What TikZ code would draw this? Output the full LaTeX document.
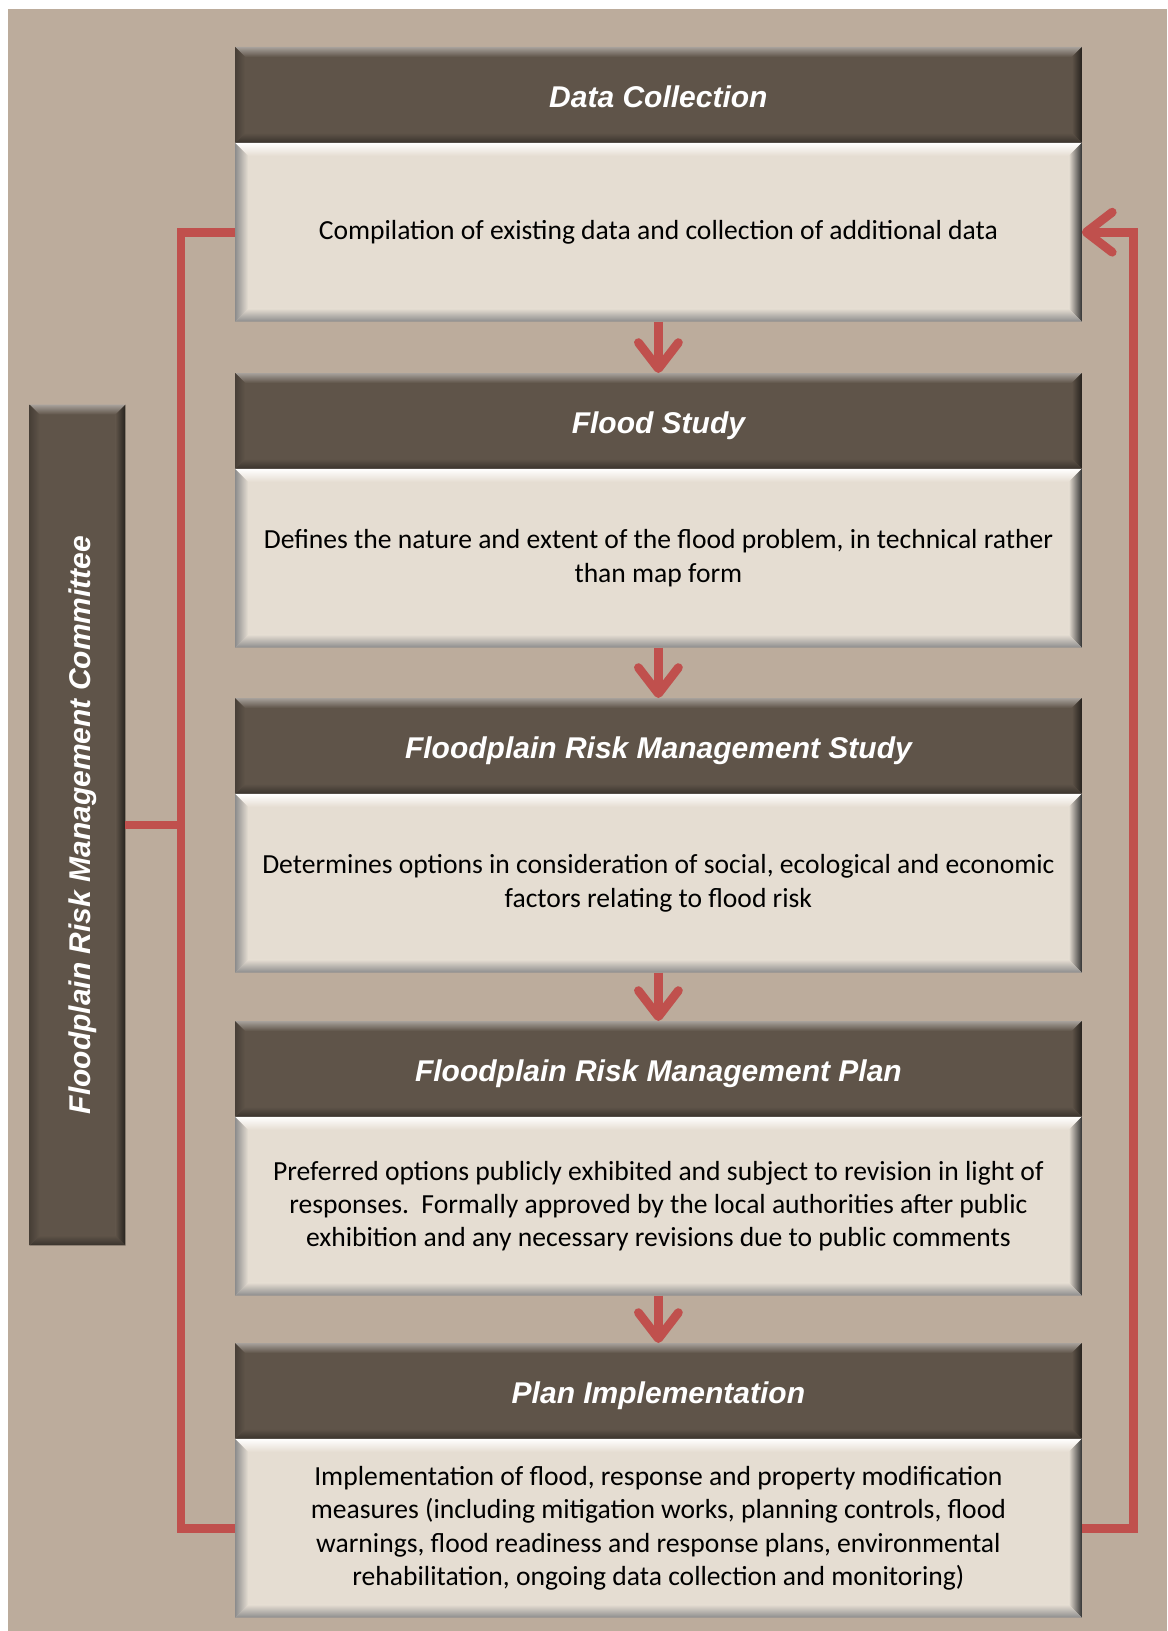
\documentclass[tikz,border=0pt]{standalone}
\usepackage{fontspec}
\usetikzlibrary{calc}
\usetikzlibrary{arrows.meta}
\newfontfamily\headfont{Liberation Sans}
\newfontfamily\bodyfont{Carlito}
\definecolor{BACK}{HTML}{BCAC9C}
\definecolor{HEAD}{HTML}{5F5449}
\definecolor{BODY}{HTML}{E5DDD2}
\definecolor{RED}{HTML}{C0504D}
% node, depth, top, right, bottom, left, base
\newcommand{\bevel}[7]{%
  \shade[top color=#3, bottom color=#7] (#1.north west) -- (#1.north east) -- ($(#1.north east)+(-#2,#2)$) -- ($(#1.north west)+(#2,#2)$) -- cycle;
  \shade[left color=#7, right color=#4] (#1.north east) -- (#1.south east) -- ($(#1.south east)+(-#2,-#2)$) -- ($(#1.north east)+(-#2,#2)$) -- cycle;
  \shade[top color=#7, bottom color=#5] (#1.south west) -- (#1.south east) -- ($(#1.south east)+(-#2,-#2)$) -- ($(#1.south west)+(#2,-#2)$) -- cycle;
  \shade[left color=#6, right color=#7] (#1.north west) -- (#1.south west) -- ($(#1.south west)+(#2,-#2)$) -- ($(#1.north west)+(#2,#2)$) -- cycle;
}
\tikzset{
  headbox/.style={fill=HEAD, minimum width=423pt, minimum height=47.5pt, inner sep=0pt},
  headtext/.style={text=white, text height=12.7pt, text depth=0pt, font=\headfont\bfseries\itshape\fontsize{15}{18}\selectfont},
  bodybox/.style={fill=BODY, minimum width=423pt, minimum height=89pt, inner sep=0pt, align=center, font=\bodyfont\fontsize{13.8}{16.6}\selectfont},
  flowline/.style={RED, line width=4.4pt},
  flowarrow/.style={flowline, -{Straight Barb[length=13pt, width=20pt, round]}}
}

\begin{document}
\begin{tikzpicture}[x=0.5pt, y=-0.5pt]
    \useasboundingbox (0,0) rectangle (1167,1631);
    \fill[BACK] (8,9) rectangle (1167,1631);

    \node[headbox, headtext, anchor=north west] (h1) at (235,47) {Data Collection};
    \node[bodybox, anchor=north] (b1) at (h1.south) {Compilation of existing data and collection of additional data};
    \node[headbox, headtext, anchor=north west] (h2) at (235,373) {Flood Study};
    \node[bodybox, anchor=north] (b2) at (h2.south) {Defines the nature and extent of the flood problem, in technical rather\\ than map form};
    \node[headbox, headtext, anchor=north west] (h3) at (235,698) {Floodplain Risk Management Study};
    \node[bodybox, anchor=north] (b3) at (h3.south) {Determines options in consideration of social, ecological and economic\\ factors relating to flood risk};
    \node[headbox, headtext, anchor=north west] (h4) at (235,1021) {Floodplain Risk Management Plan};
    \node[bodybox, anchor=north] (b4) at (h4.south) {Preferred options publicly exhibited and subject to revision in light of\\ responses.\ \ Formally approved by the local authorities after public\\ exhibition and any necessary revisions due to public comments};
    \node[headbox, headtext, anchor=north west] (h5) at (235,1343) {Plan Implementation};
    \node[bodybox, anchor=north] (b5) at (h5.south) {Implementation of flood, response and property modification\\ measures (including mitigation works, planning controls, flood\\ warnings, flood readiness and response plans, environmental\\ rehabilitation, ongoing data collection and monitoring)};
    \node[headbox, minimum width=47.5pt, minimum height=420pt] (comm) at (77.5,825) {};

    \foreach \n in {h1,h2,h3,h4,h5,comm}
        \bevel{\n}{10}{HEAD!55!white}{HEAD!40!black}{HEAD!60!black}{HEAD!75!black}{HEAD};
    \foreach \n in {b1,b2,b3,b4,b5}
        \bevel{\n}{13}{white}{black!80}{black!45}{black!45}{BODY};
    \node[headtext, rotate=90] at (comm) {Floodplain Risk Management Committee};

    \draw[flowarrow] (b1.south) -- (h2.north);
    \draw[flowarrow] (b2.south) -- (h3.north);
    \draw[flowarrow] (b3.south) -- (h4.north);
    \draw[flowarrow] (b4.south) -- (h5.north);

    \coordinate (lx) at (181,0);
    \draw[flowline] (b1.west) -| (lx |- b5.west) -- (b5.west);
    \draw[flowline] (comm.east) -- (comm.east -| lx);
    \draw[flowarrow] (b5.east) -- ++(52,0) |- (b1.east);
\end{tikzpicture}
\end{document}
